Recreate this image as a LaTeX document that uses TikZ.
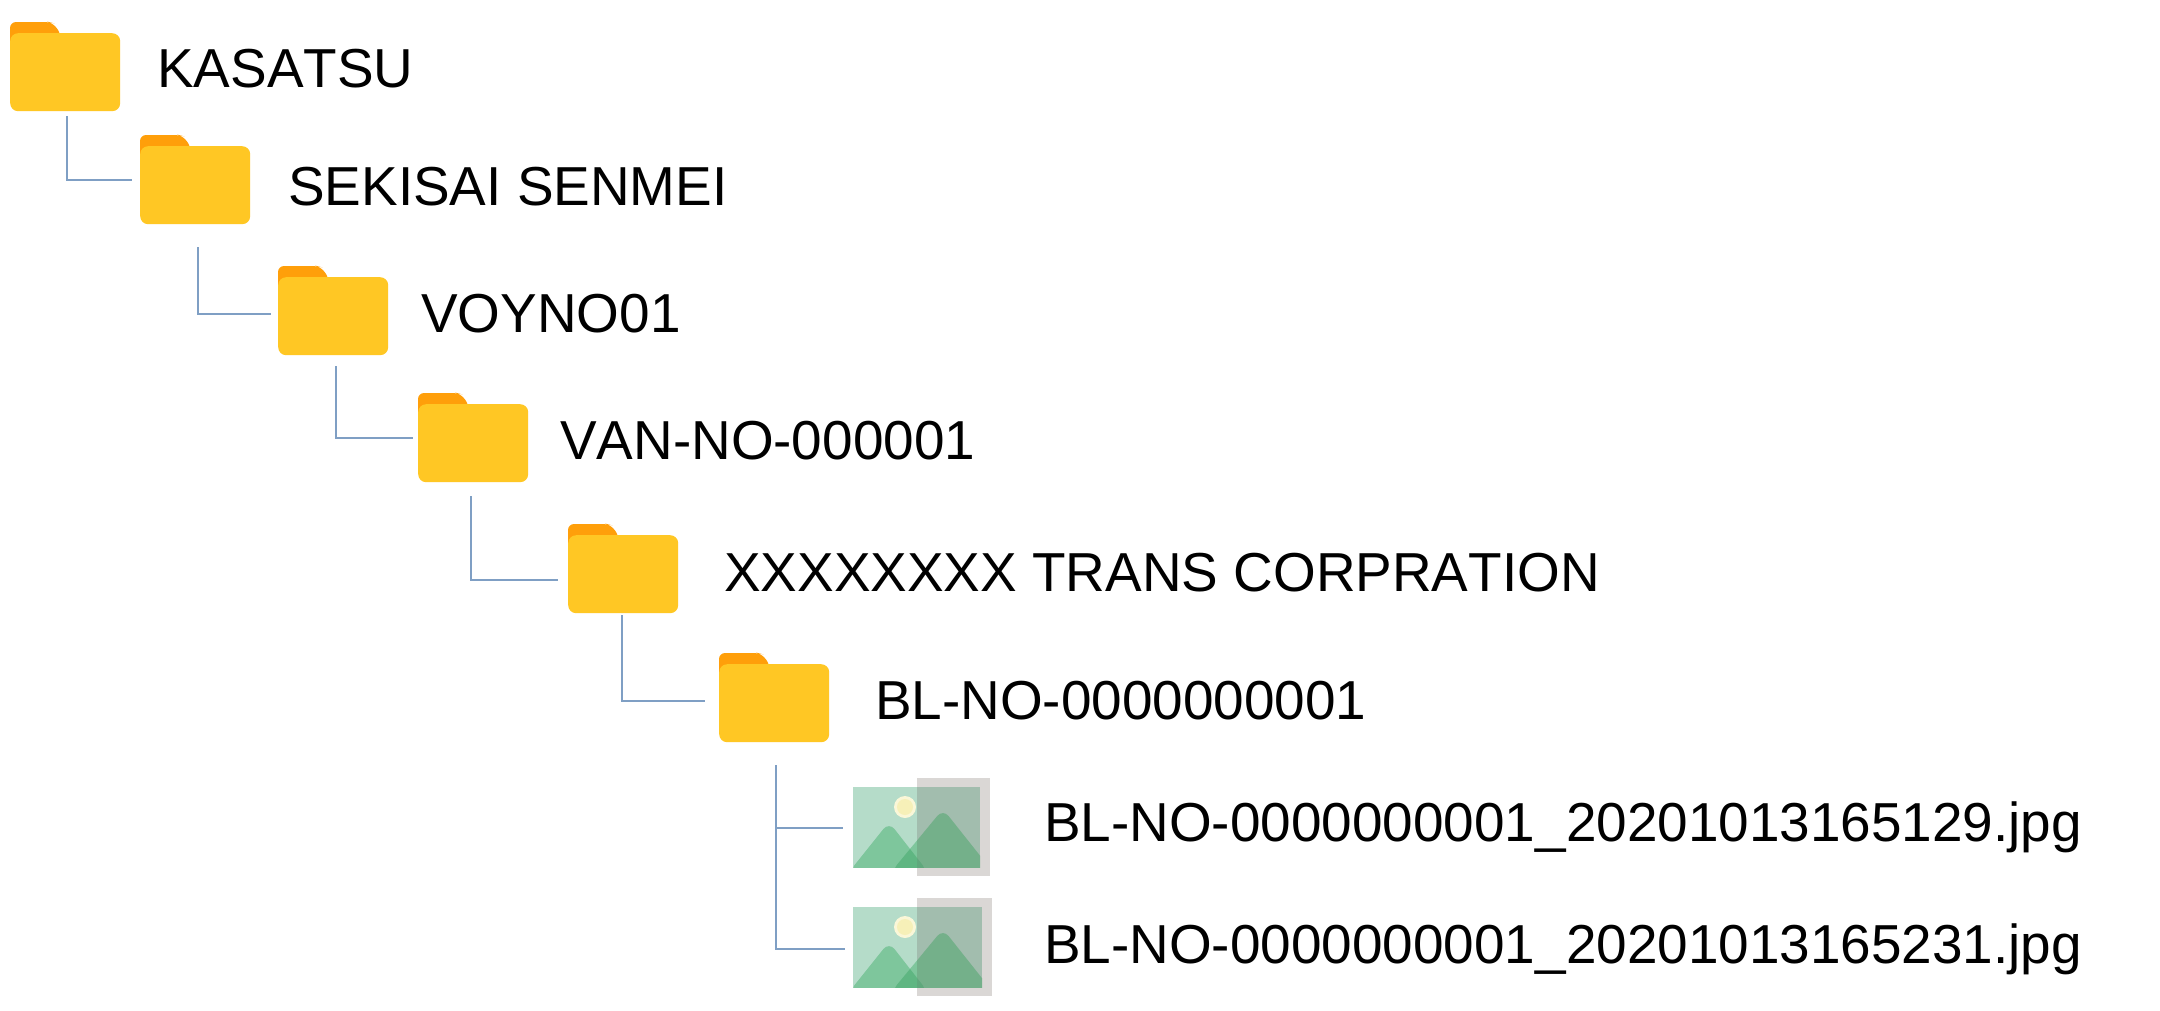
\documentclass[tikz,border=0pt]{standalone}
\usepackage{fontspec}
\setmainfont[Kerning=Off]{Liberation Sans}
\definecolor{folderbody}{HTML}{FFC724}
\definecolor{foldertab}{HTML}{FF9F0A}
\definecolor{connblue}{HTML}{7F9FC4}
\definecolor{iconback}{HTML}{DAD7D5}
\definecolor{iconsky}{HTML}{B5DCC9}
\definecolor{iconskyd}{HTML}{A2BDAE}
\definecolor{iconmount}{HTML}{7EC69C}
\definecolor{iconmountd}{HTML}{74B08A}
\definecolor{iconover}{HTML}{5FB682}
\definecolor{iconoverd}{HTML}{5FA87C}
\definecolor{iconsun}{HTML}{F6F0B8}
\tikzset{
  x=1pt,y=-1pt,
  folderbox/.style={fill=folderbody,draw=none,rounded corners=8pt,inner sep=0pt,minimum width=110pt,minimum height=78pt},
  foldertabshape/.style={fill=foldertab,draw=none},
  conn/.style={draw=connblue,line width=1.7pt},
  label/.style={anchor=base west,inner sep=0pt,font=\fontsize{54.9pt}{60pt}\selectfont,text=black},
  imgbox/.style={inner sep=0pt,minimum width=128pt,minimum height=80pt}
}
% #1 name, #2 left, #3 top of the tab
\newcommand{\folderat}[3]{%
  \fill[foldertabshape,rounded corners=6pt] (#2,#3+32) -- (#2,#3) -- (#2+39,#3) -- (#2+43,#3+1) -- (#2+51,#3+12) -- (#2+51,#3+32) -- cycle;
  \node[folderbox,anchor=north west] (#1) at (#2,#3+11) {};
}
\newcommand{\mountleft}[1]{\path[#1,rounded corners=9pt] (-4,85) -- (36,35) -- (75,85) -- cycle;}
\newcommand{\mountright}[1]{\path[#1,rounded corners=9pt] (38,85) -- (90,22) -- (140,85) -- cycle;}
% #1 name, #2 left, #3 top of the picture, #4 width
\newcommand{\imageat}[4]{%
  \begin{scope}[shift={(#2,#3)}]
    \fill[iconback] (64,-9) rectangle (#4+10,89);
    \fill[iconsky] (0,0) rectangle (64,80);
    \fill[iconskyd] (64,0) rectangle (#4,80);
    \fill[iconsun!55!white] (52,20) circle (11);
    \fill[iconsun] (52,20) circle (8);
    \begin{scope}
      \clip (0,0) rectangle (64,80);
      \mountleft{fill=iconmount}
      \mountright{fill=iconmount}
      \begin{scope}
        \mountright{clip}
        \mountleft{fill=iconover}
      \end{scope}
    \end{scope}
    \begin{scope}
      \clip (64,0) rectangle (#4,80);
      \mountright{fill=iconmountd}
      \begin{scope}
        \mountright{clip}
        \mountleft{fill=iconoverd}
      \end{scope}
    \end{scope}
    \node[imgbox,anchor=north west] (#1) at (0,0) {};
  \end{scope}
}
\begin{document}
\begin{tikzpicture}
\useasboundingbox (0,0) rectangle (2160,1010);
\fill[white] (0,0) rectangle (2160,1010);

\folderat{f1}{10}{22}
\folderat{f2}{140}{135}
\folderat{f3}{278}{266}
\folderat{f4}{418}{393}
\folderat{f5}{568}{524}
\folderat{f6}{719}{653}
\imageat{i1}{853}{787}{127}
\imageat{i2}{853}{907}{129}

\node[label] (t1) at (157,87) {KASATSU};
\node[label] (t2) at (288,205) {SEKISAI SENMEI};
\node[label] (t3) at (421,332) {VOYNO01};
\node[label] (t4) at (560,459) {VAN-NO-000001};
\node[label] (t5) at (724,591) {XXXXXXXX TRANS CORPRATION};
\node[label] (t6) at (875,719) {BL-NO-0000000001};
\node[label] (t7) at (1044,841) {BL-NO-0000000001\_20201013165129.jpg};
\node[label] (t8) at (1044,963) {BL-NO-0000000001\_20201013165231.jpg};

\coordinate (s1) at (67,116);
\coordinate (e1) at (132,180);
\coordinate (s2) at (198,247);
\coordinate (e2) at (271,314);
\coordinate (s3) at (336,366);
\coordinate (e3) at (413,438);
\coordinate (s4) at (471,496);
\coordinate (e4) at (558,580);
\coordinate (s5) at (622,615);
\coordinate (e5) at (705,701);
\coordinate (s6) at (776,765);
\coordinate (e6) at (843,828);
\coordinate (e7) at (845,949);

\draw[conn] (s1) |- (e1);
\draw[conn] (s2) |- (e2);
\draw[conn] (s3) |- (e3);
\draw[conn] (s4) |- (e4);
\draw[conn] (s5) |- (e5);
\draw[conn] (s6) |- (e7);
\draw[conn] (s6 |- e6) -- (e6);
\end{tikzpicture}
\end{document}
